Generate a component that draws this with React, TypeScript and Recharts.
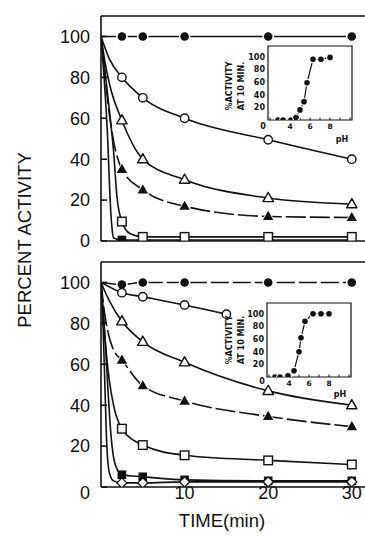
import { ComposedChart, LineChart, Line, XAxis, YAxis, ReferenceArea } from 'recharts';

// sampling times (min) of the plotted points
const times = [2.5, 5, 10, 20, 30];
const shortTimes = [2.5, 5, 10, 15];

// upper panel: percent activity at each time
const topFilledCircle = [100, 100, 100, 100, 100];
const topOpenCircle = [80, 70, 60, 49.5, 40];
const topOpenTriangle = [59, 40, 30, 21, 18];
const topFilledTriangle = [35, 25, 17, 12, 11.5];
const topFilledSquare = [0.5, 0.5, 0.5, 0.5, 0.5];
const topOpenSquare = [9.5, 2, 2, 2, 2];

// upper panel: drawn curves as [time, activity]
const topFilledCircleFit = [[0, 100], [2.5, 100], [5, 100], [10, 100], [20, 100], [30, 100]];
const topOpenCircleFit = [[0, 100], [1, 89], [2.5, 80], [5, 70], [10, 60], [20, 49.5], [30, 40]];
const topOpenTriangleFit = [[0, 100], [0.5, 87], [1, 77], [2.5, 59], [5, 40], [10, 30], [20, 21], [30, 18]];
const topFilledTriangleFit = [[0, 100], [0.5, 80], [1, 62], [1.5, 49], [2.5, 35], [5, 25], [10, 17], [20, 12], [30, 11.5]];
const topOpenSquareFit = [[0, 100], [0.5, 82], [1, 64], [1.5, 44], [1.9, 22], [2.5, 9.5], [3.5, 3.5], [5, 2], [10, 2], [20, 2], [30, 2]];
const topFilledSquareFit = [[0, 100], [0.4, 78], [0.8, 50], [1.07, 22], [1.3, 7], [1.5, 1.5], [2.5, 0.5], [30, 0.5]];

// lower panel: percent activity at each time
const botFilledCircle = [99, 100, 100, 100, 100];
const botOpenCircle = [95, 93, 89, 84.5];
const botOpenTriangle = [81, 71, 61, 47, 40];
const botFilledTriangle = [62, 49.5, 42, 34.5, 29.5];
const botOpenSquare = [28.5, 20.5, 15.5, 13, 11];
const botFilledSquare = [6, 5, 3.5, 3, 3];
const botOpenDiamond = [2, 2, 2.5, 2.5, 2.5];

// lower panel: drawn curves
const botFilledCircleFit = [[0, 100], [2.5, 99], [5, 100], [10, 100], [20, 100], [30, 100]];
const botOpenCircleFit = [[0, 100], [2.5, 95], [5, 93], [10, 89], [15, 84.5]];
const botOpenTriangleFit = [[0, 100], [1, 91], [2.5, 81], [5, 71], [10, 61], [20, 47], [30, 40]];
const botFilledTriangleFit = [[0, 100], [0.5, 83], [1, 73], [1.5, 67], [2.5, 62], [5, 49.5], [10, 42], [20, 34.5], [30, 29.5]];
const botOpenSquareFit = [[0, 100], [0.5, 72], [1, 52], [1.5, 40], [2.5, 28.5], [5, 20.5], [10, 15.5], [20, 13], [30, 11]];
const botFilledSquareFit = [[0, 100], [0.4, 78], [0.8, 50], [1.2, 25], [1.7, 11], [2.5, 6], [5, 5], [10, 3.5], [20, 3], [30, 3]];
const botOpenDiamondFit = [[0, 100], [0.25, 78], [0.5, 45], [0.7, 20], [1, 7], [1.5, 3], [2.5, 2], [5, 2], [10, 2.5], [20, 2.5], [30, 2.5]];

// insets: % activity at 10 min vs pH
const topInsetPh = [2.8, 3.3, 4.1, 4.6, 5, 5.4, 5.7, 6.3, 7.1, 8];
const topInsetAct = [0, 0, 0, 4, 16, 29, 59, 96, 96, 99];
const botInsetPh = [2.6, 3.1, 3.9, 4.5, 5, 5.2, 5.6, 6.4, 7.2, 8];
const botInsetAct = [0, 0, 2, 10, 40, 62, 88, 100, 100, 100];

const mainTicksY = [0, 20, 40, 60, 80, 100];
const mainTicksX = [10, 20, 30];
const phTicks = [2, 3, 4, 5, 6, 7, 8, 9, 10];
const phLabels = [4, 6, 8];
const insetTicksY = [0, 20, 40, 60, 80, 100];
const insetLabelsY = [20, 40, 60, 80, 100];
const INSET_MAX = 117;

const INK = '#111';
const rows = (ts: number[], vs: number[]) => ts.map((t, i) => ({ t, v: vs[i] }));
const fit = (pairs: number[][]) => pairs.map(([t, v]) => ({ t, v }));

type Series = { fit: { t: number; v: number }[]; marks: { t: number; v: number }[]; kind: string; dash?: string };

const topSeries: Series[] = [
  { fit: fit(topFilledCircleFit), marks: rows(times, topFilledCircle), kind: 'fc' },
  { fit: fit(topOpenCircleFit), marks: rows(times, topOpenCircle), kind: 'oc' },
  { fit: fit(topOpenTriangleFit), marks: rows(times, topOpenTriangle), kind: 'ot' },
  { fit: fit(topFilledTriangleFit), marks: rows(times, topFilledTriangle), kind: 'ft', dash: '20 4' },
  { fit: fit(topFilledSquareFit), marks: rows(times, topFilledSquare), kind: 'fs' },
  { fit: fit(topOpenSquareFit), marks: rows(times, topOpenSquare), kind: 'os' },
];

const botSeries: Series[] = [
  { fit: fit(botFilledCircleFit), marks: rows(times, botFilledCircle), kind: 'fc', dash: '18 4' },
  { fit: fit(botOpenCircleFit), marks: rows(shortTimes, botOpenCircle), kind: 'oc' },
  { fit: fit(botOpenTriangleFit), marks: rows(times, botOpenTriangle), kind: 'ot' },
  { fit: fit(botFilledTriangleFit), marks: rows(times, botFilledTriangle), kind: 'ft', dash: '20 4' },
  { fit: fit(botOpenSquareFit), marks: rows(times, botOpenSquare), kind: 'os' },
  { fit: fit(botFilledSquareFit), marks: rows(times, botFilledSquare), kind: 'fs' },
  { fit: fit(botOpenDiamondFit), marks: rows(times, botOpenDiamond), kind: 'od' },
];

function Marker({ cx, cy, kind }: { cx?: number; cy?: number; kind: string }) {
  if (cx == null || cy == null) return <g />;
  const tri = (s: number) => `${cx},${cy - 5.6 * s} ${cx - 5.2 * s},${cy + 3.6 * s} ${cx + 5.2 * s},${cy + 3.6 * s}`;
  switch (kind) {
    case 'fc':
      return (
        <g>
          <circle cx={cx} cy={cy} r={5.8} fill="#fff" />
          <circle cx={cx} cy={cy} r={4.3} fill={INK} />
        </g>
      );
    case 'oc':
      return <circle cx={cx} cy={cy} r={4.2} fill="#fff" stroke={INK} strokeWidth={1.4} />;
    case 'ot':
      return <polygon points={tri(1)} fill="#fff" stroke={INK} strokeWidth={1.4} strokeLinejoin="round" />;
    case 'ft':
      return (
        <g>
          <polygon points={tri(1.3)} fill="#fff" />
          <polygon points={tri(1)} fill={INK} />
        </g>
      );
    case 'os':
      return <rect x={cx - 4.3} y={cy - 4.3} width={8.6} height={8.6} fill="#fff" stroke={INK} strokeWidth={1.4} />;
    case 'fs':
      return <rect x={cx - 4.3} y={cy - 4.3} width={8.6} height={8.6} fill={INK} />;
    case 'od':
      return (
        <polygon
          points={`${cx},${cy - 5} ${cx + 5},${cy} ${cx},${cy + 5} ${cx - 5},${cy}`}
          fill="#fff"
          stroke={INK}
          strokeWidth={1.3}
        />
      );
    default:
      return <g />;
  }
}

const tickFont = { fontSize: 18, fontFamily: 'Liberation Sans, Arial, sans-serif', fill: INK };
const frame = { stroke: INK, strokeWidth: 1.6 };

function LowerYTick(props: any) {
  const { x, y, payload } = props;
  const shift = payload.value === 0 ? 6 : 0;
  return (
    <text x={x} y={y + shift} dy="0.355em" textAnchor="end" {...tickFont}>
      {payload.value}
    </text>
  );
}

function Panel({ series, lower }: { series: Series[]; lower: boolean }) {
  const height = lower ? 290 : 250;
  const margin = lower ? { top: 11, right: 13, bottom: 23, left: 51 } : { top: 15, right: 13, bottom: 8, left: 51 };
  return (
    <ComposedChart width={380} height={height} margin={margin}>
      <XAxis
        xAxisId="b"
        type="number"
        dataKey="t"
        domain={[0, 31.7]}
        ticks={mainTicksX}
        interval={0}
        allowDataOverflow
        height={lower ? 30 : 1}
        axisLine={frame}
        tickLine={frame}
        tickSize={-5}
        tickMargin={4.6}
        tick={lower ? tickFont : false}
      />
      <XAxis
        xAxisId="t"
        orientation="top"
        type="number"
        domain={[0, 31.7]}
        ticks={mainTicksX}
        interval={0}
        allowDataOverflow
        height={1}
        axisLine={frame}
        tickLine={frame}
        tickSize={-5}
        tick={false}
      />
      <YAxis
        yAxisId="l"
        type="number"
        dataKey="v"
        domain={[0, 110]}
        ticks={mainTicksY}
        interval={0}
        allowDataOverflow
        width={50}
        axisLine={frame}
        tickLine={frame}
        tickSize={-6}
        tickMargin={17}
        tick={lower ? LowerYTick : tickFont}
      />
      <YAxis
        yAxisId="r"
        orientation="right"
        type="number"
        domain={[0, 110]}
        ticks={mainTicksY}
        interval={0}
        allowDataOverflow
        width={1}
        axisLine={frame}
        tickLine={frame}
        tickSize={-4}
        tick={false}
      />
      {series.map((s, i) => (
        <Line
          key={`fit-${i}`}
          xAxisId="b"
          yAxisId="l"
          data={s.fit}
          dataKey="v"
          type="monotone"
          stroke={INK}
          strokeWidth={1.6}
          strokeDasharray={s.dash}
          dot={false}
          activeDot={false}
          isAnimationActive={false}
        />
      ))}
      {series.map((s, i) => (
        <Line
          key={`mark-${i}`}
          xAxisId="b"
          yAxisId="l"
          data={s.marks}
          dataKey="v"
          stroke="none"
          dot={(p: any) => <Marker key={`m-${i}-${p.index}`} cx={p.cx} cy={p.cy} kind={s.kind} />}
          activeDot={false}
          isAnimationActive={false}
        />
      ))}
    </ComposedChart>
  );
}

const insetFont = { fontSize: 7.5, fontFamily: 'DejaVu Sans, sans-serif', fontWeight: 700, fill: INK };

function Inset({ ph, act }: { ph: number[]; act: number[] }) {
  const data = ph.map((p, i) => ({ ph: p, act: act[i] }));
  const thin = { stroke: INK, strokeWidth: 1 };
  return (
    <LineChart width={140} height={105} margin={{ top: 5, right: 10, bottom: 10, left: 26 }}>
      <ReferenceArea x1={1.8} x2={10.2} y1={0} y2={INSET_MAX} fill="#fff" fillOpacity={1} stroke={INK} strokeWidth={1.2} />
      <XAxis
        type="number"
        dataKey="ph"
        domain={[1.8, 10.2]}
        ticks={phTicks}
        interval={0}
        allowDataOverflow
        height={15}
        axisLine={false}
        tickLine={thin}
        tickSize={-2.5}
        tickMargin={5.8}
        tick={insetFont}
        tickFormatter={(v: number) => (phLabels.includes(v) ? String(v) : '')}
      />
      <XAxis
        xAxisId="top"
        orientation="top"
        type="number"
        domain={[1.8, 10.2]}
        ticks={phTicks}
        interval={0}
        allowDataOverflow
        height={1}
        axisLine={false}
        tickLine={thin}
        tickSize={-3}
        tick={false}
      />
      <YAxis
        type="number"
        dataKey="act"
        domain={[0, INSET_MAX]}
        ticks={insetTicksY}
        interval={0}
        allowDataOverflow
        width={20}
        axisLine={false}
        tickLine={thin}
        tickSize={-2.5}
        tick={false}
      />
      <Line
        data={data}
        dataKey="act"
        type="linear"
        stroke={INK}
        strokeWidth={1.2}
        dot={(p: any) => (
          <g key={`i-${p.index}`}>
            <circle cx={p.cx} cy={p.cy} r={3.8} fill="#fff" />
            <circle cx={p.cx} cy={p.cy} r={2.8} fill={INK} />
          </g>
        )}
        activeDot={false}
        isAnimationActive={false}
      />
    </LineChart>
  );
}

// inset value labels, placed along each inset's 74px-high plot
function InsetLabels({ top, right }: { top: number; right: number }) {
  const small = { fontFamily: 'DejaVu Sans, sans-serif', fontWeight: 700, fontSize: 8, fill: INK };
  return (
    <g>
      {insetLabelsY.map((v) => (
        <text key={v} x={right} y={top + 74 * (1 - v / INSET_MAX)} dy="0.355em" textAnchor="end" {...small}>
          {v}
        </text>
      ))}
    </g>
  );
}

export default function App() {
  const label = { fontFamily: 'Liberation Sans, Arial, sans-serif', fill: INK };
  const small = { fontFamily: 'DejaVu Sans, sans-serif', fontWeight: 700, fontSize: 8, fill: INK };
  return (
    <div style={{ position: 'absolute', left: 0, top: 0, width: 365, height: 540, overflow: 'hidden', background: '#fff' }}>
      <div style={{ position: 'absolute', left: 0, top: 0 }}>
        <Panel series={topSeries} lower={false} />
      </div>
      <div style={{ position: 'absolute', left: 0, top: 250 }}>
        <Panel series={botSeries} lower />
      </div>
      <div style={{ position: 'absolute', left: 222, top: 40 }}>
        <Inset ph={topInsetPh} act={topInsetAct} />
      </div>
      <div style={{ position: 'absolute', left: 221, top: 297 }}>
        <Inset ph={botInsetPh} act={botInsetAct} />
      </div>
      <svg width={365} height={540} style={{ position: 'absolute', left: 0, top: 0, pointerEvents: 'none' }}>
        <text transform="translate(24,240) rotate(-90)" textAnchor="middle" dominantBaseline="central" fontSize={18.5} {...label}>
          PERCENT ACTIVITY
        </text>
        <text x={222} y={520} textAnchor="middle" dominantBaseline="central" fontSize={18.5} {...label}>
          TIME(min)
        </text>
        <text transform="translate(229,86) rotate(-90)" textAnchor="middle" dominantBaseline="central" {...small}>
          %ACTIVITY
        </text>
        <text transform="translate(241,86) rotate(-90)" textAnchor="middle" dominantBaseline="central" {...small}>
          AT 10 MIN.
        </text>
        <InsetLabels top={46} right={265} />
        <text x={263} y={126} textAnchor="middle" dominantBaseline="central" {...small}>
          0
        </text>
        <text x={342} y={139} textAnchor="middle" dominantBaseline="central" {...small}>
          pH
        </text>
        <text transform="translate(229,340) rotate(-90)" textAnchor="middle" dominantBaseline="central" {...small}>
          %ACTIVITY
        </text>
        <text transform="translate(241,340) rotate(-90)" textAnchor="middle" dominantBaseline="central" {...small}>
          AT 10 MIN.
        </text>
        <InsetLabels top={303} right={264} />
        <text x={262} y={381} textAnchor="middle" dominantBaseline="central" {...small}>
          0
        </text>
        <text x={340} y={394} textAnchor="middle" dominantBaseline="central" {...small}>
          pH
        </text>
      </svg>
    </div>
  );
}
